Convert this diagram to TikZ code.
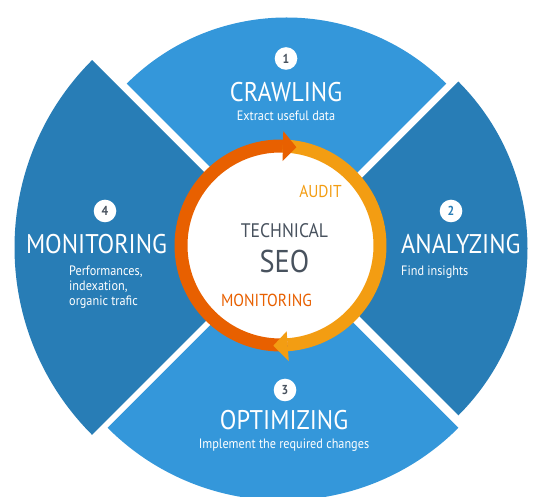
\documentclass[tikz,border=0pt]{standalone}
\usepackage{fontspec}
\setmainfont{PT Sans}[FakeStretch=0.9]
\begin{document}
\begin{tikzpicture}[x=1pt,y=1pt]
\definecolor{lblue}{RGB}{52,151,218}
\definecolor{dblue}{RGB}{40,125,182}
\definecolor{dorange}{RGB}{232,96,0}
\definecolor{lorange}{RGB}{243,157,18}
\definecolor{slate}{RGB}{72,82,94}
\tikzset{
  title/.style={text=white, font=\fontsize{27}{30}\selectfont, inner sep=0pt, anchor=base},
  sub/.style={text=white, font=\fontsize{13.6}{15.2}\selectfont, inner sep=0pt, anchor=base},
  num/.style={circle, fill=white, minimum size=22.6pt, inner sep=0pt, font=\bfseries\fontsize{13}{13}\selectfont, text=slate},
  ringarc/.style={line width=13pt},
}
\useasboundingbox (0,0) rectangle (540,497);
\clip (0,0) rectangle (540,497);
% sectors
\coordinate (ct) at (286.5,253.5);
\coordinate (cr) at (291.5,248.5);
\coordinate (cb) at (283,244.5);
\coordinate (cl) at (279.5,249.5);
\fill[lblue] (ct) -- ++(45:226) arc[start angle=45,end angle=135,radius=226] -- cycle;
\fill[dblue] (cr) -- ++(-45:236) arc[start angle=-45,end angle=45,radius=236] -- cycle;
\fill[lblue] (cb) -- ++(225:248) arc[start angle=225,end angle=315,radius=248] -- cycle;
\fill[dblue] (cl) -- ++(135:265) arc[start angle=135,end angle=225,radius=265] -- cycle;
% centre ring
\coordinate (rc) at (280.5,251.5);
\fill[white] (rc) circle[radius=100];
\draw[dorange, ringarc] (rc) ++(88.6:99.5) arc[start angle=88.6,end angle=274.1,radius=99.5];
\draw[lorange, ringarc] (rc) ++(88.6:99.5) arc[start angle=88.6,end angle=-85.9,radius=99.5];
\fill[dorange] ([shift={(88.6:84.5)}]rc) -- ([shift={(88.6:114.5)}]rc) -- ([shift={(80.8:99.5)}]rc) -- cycle;
\fill[lorange] ([shift={(274.1:86)}]rc) -- ([shift={(274.1:116)}]rc) -- ([shift={(265.9:100.5)}]rc) -- cycle;
% centre texts
\node[inner sep=0pt, anchor=base, text=slate, font=\fontsize{19.6}{21}\selectfont] (tech) at (284.5,259) {TECHNICAL};
\node[inner sep=0pt, anchor=base, text=slate, font=\fontsize{31.5}{33}\selectfont] (seo) at (284.5,224.4) {SEO};
\node[inner sep=0pt, anchor=base, text=lorange, font=\fontsize{17.2}{19}\selectfont] (audit) at (320.5,299.7) {AUDIT};
\node[inner sep=0pt, anchor=base, text=dorange, font=\fontsize{17.4}{19}\selectfont] (mon) at (266.5,190.3) {MONITORING};
% step 1
\node[num] (n1) at (286,438.5) {1};
\node[title] (t1) at (286,395.4) {CRAWLING};
\node[sub] (s1) at (286,376) {Extract useful data};
% step 2
\node[num, text=dblue] (n2) at (451,286) {2};
\node[title, anchor=base west] (t2) at (401,243.3) {ANALYZING};
\node[sub, anchor=base west] (s2) at (401,221) {Find insights};
% step 3
\node[num] (n3) at (285,107) {3};
\node[title] (t3) at (284,67) {OPTIMIZING};
\node[sub] (s3) at (284,48.5) {Implement the required changes};
% step 4
\node[num] (n4) at (105,286) {4};
\node[title] (t4) at (96.5,243.3) {MONITORING};
\node[sub, anchor=north west, align=left] (s4) at (69,231.5) {Performances,\\indexation,\\organic trafic};
\end{tikzpicture}
\end{document}
